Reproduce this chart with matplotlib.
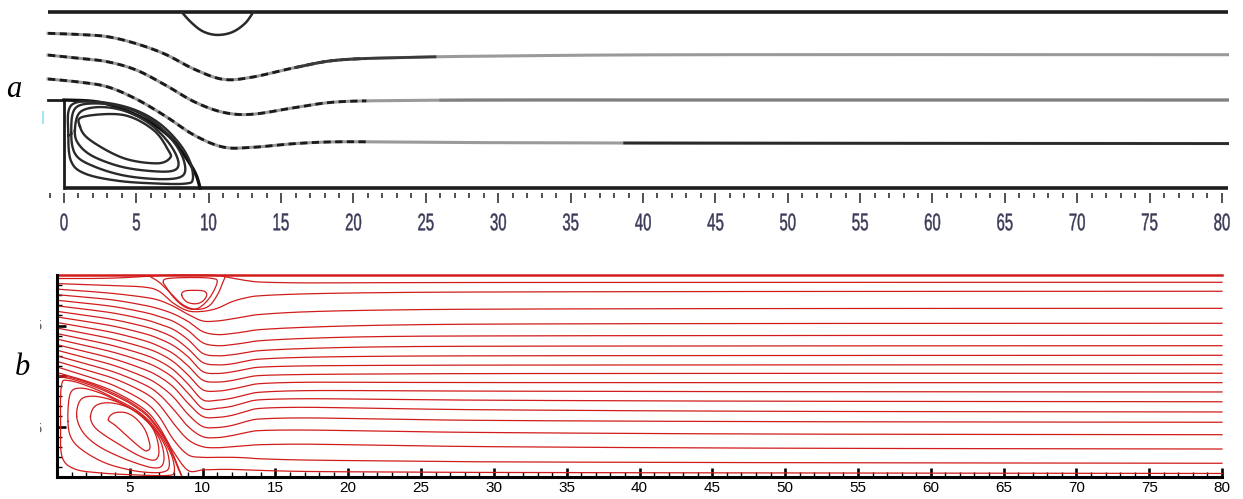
import numpy as np
import matplotlib.pyplot as plt
from matplotlib.lines import Line2D
from matplotlib.patches import Rectangle, PathPatch
from matplotlib.textpath import TextPath
from matplotlib.font_manager import FontProperties
from matplotlib.transforms import IdentityTransform, Affine2D

# ---------------- (a) coarse solution, black/grey streamlines ----------------
a_wall_x = [-1.1, 80.4]
a_step_x = [-1.1, 0.0, 0.0]
a_step_y = [1.0, 1.0, 0.0]
a_tick_labels = [str(v) for v in range(0, 81, 5)]

a_x = [-1.1, 1, 3, 5, 7, 9, 11, 13, 16, 19, 24, 30, 44, 80.4]
a_line1 = [1.758, 1.745, 1.72, 1.64, 1.52, 1.35, 1.235, 1.26, 1.37, 1.455, 1.485, 1.50, 1.515, 1.515]
a_line2 = [1.511, 1.475, 1.435, 1.34, 1.17, 0.98, 0.86, 0.838, 0.915, 0.98, 0.995, 1.0, 1.0, 1.0]
a_line3 = [1.239, 1.205, 1.15, 1.01, 0.817, 0.60, 0.465, 0.462, 0.505, 0.525, 0.52, 0.515, 0.51, 0.505]

# small separation bubble on the upper wall
a_top_x = [8.13, 8.8, 9.6, 10.55, 11.6, 12.5, 13.08]
a_top_y = [2.0, 1.88, 1.78, 1.74, 1.77, 1.87, 2.0]

# dividing streamline behind the step
a_sep_x = [0.0, 2.0, 3.5, 5.25, 6.5, 7.5, 8.24, 8.8, 9.17, 9.4]
a_sep_y = [1.0, 0.985, 0.93, 0.81, 0.69, 0.55, 0.39, 0.25, 0.13, 0.0]

# closed loops of the corner vortex
a_loops = [
    [(1.1, 0.70), (1.33, 0.81), (4.1, 0.83), (6.17, 0.66), (7.2, 0.43), (7.32, 0.34),
     (6.4, 0.28), (4.1, 0.34), (1.8, 0.545)],
    [(0.75, 0.65), (1.1, 0.86), (2.5, 0.92), (4.3, 0.87), (6.0, 0.72), (7.3, 0.50),
     (7.9, 0.30), (7.6, 0.2), (6.2, 0.19), (4.0, 0.24), (2.0, 0.36), (1.0, 0.5)],
    [(0.5, 0.62), (0.8, 0.91), (2.5, 0.96), (4.5, 0.90), (6.3, 0.74), (7.6, 0.52),
     (8.3, 0.30), (8.2, 0.14), (6.8, 0.10), (4.2, 0.14), (2.0, 0.25), (0.8, 0.38)],
    [(0.3, 0.6), (0.5, 0.94), (2.5, 0.975), (4.7, 0.90), (6.5, 0.745), (7.9, 0.52),
     (8.7, 0.30), (8.9, 0.1), (8.4, 0.05), (6.5, 0.05), (3.8, 0.08), (1.5, 0.16), (0.5, 0.3)],
]

# ---------------- (b) fine solution, red streamlines ----------------
b_x = [0, 2, 4, 6, 7, 8, 9, 10, 11, 12, 13, 14, 17, 22, 30, 50, 80]
b_lines = [
    [1.965, 1.965, 1.97, 1.985, 1.995, 2.0, 2.0, 2.0, 1.995, 1.97, 1.945, 1.93, 1.922, 1.924, 1.926, 1.927, 1.928],
    [1.915, 1.905, 1.895, 1.88, 1.84, 1.72, 1.645, 1.64, 1.67, 1.735, 1.775, 1.795, 1.813, 1.825, 1.832, 1.837, 1.839],
    [1.86, 1.84, 1.815, 1.78, 1.75, 1.69, 1.61, 1.545, 1.545, 1.565, 1.59, 1.61, 1.635, 1.652, 1.662, 1.668, 1.670],
    [1.805, 1.78, 1.75, 1.70, 1.665, 1.615, 1.54, 1.44, 1.41, 1.42, 1.44, 1.46, 1.482, 1.502, 1.514, 1.52, 1.522],
    [1.75, 1.72, 1.685, 1.63, 1.59, 1.54, 1.45, 1.33, 1.30, 1.31, 1.33, 1.35, 1.372, 1.39, 1.397, 1.401, 1.403],
    [1.695, 1.66, 1.62, 1.56, 1.515, 1.46, 1.36, 1.225, 1.20, 1.21, 1.232, 1.252, 1.272, 1.288, 1.295, 1.298, 1.30],
    [1.64, 1.60, 1.555, 1.49, 1.445, 1.38, 1.27, 1.135, 1.11, 1.12, 1.148, 1.168, 1.185, 1.195, 1.20, 1.203, 1.205],
    [1.585, 1.54, 1.49, 1.42, 1.37, 1.30, 1.19, 1.045, 1.025, 1.04, 1.068, 1.088, 1.10, 1.105, 1.108, 1.11, 1.112],
    [1.53, 1.48, 1.425, 1.35, 1.295, 1.22, 1.10, 0.96, 0.94, 0.955, 0.985, 1.005, 1.015, 1.02, 1.024, 1.026, 1.027],
    [1.475, 1.42, 1.36, 1.28, 1.225, 1.14, 1.01, 0.865, 0.85, 0.87, 0.90, 0.925, 0.938, 0.937, 0.935, 0.934, 0.934],
    [1.42, 1.36, 1.295, 1.21, 1.15, 1.06, 0.92, 0.765, 0.76, 0.78, 0.815, 0.84, 0.855, 0.855, 0.85, 0.845, 0.842],
    [1.365, 1.30, 1.23, 1.14, 1.075, 0.98, 0.83, 0.68, 0.68, 0.70, 0.74, 0.765, 0.775, 0.77, 0.76, 0.75, 0.745],
    [1.31, 1.24, 1.165, 1.065, 0.995, 0.89, 0.73, 0.60, 0.59, 0.61, 0.65, 0.68, 0.69, 0.68, 0.665, 0.65, 0.644],
    [1.255, 1.18, 1.10, 0.99, 0.91, 0.79, 0.62, 0.50, 0.49, 0.51, 0.55, 0.575, 0.585, 0.575, 0.56, 0.548, 0.542],
    [1.20, 1.12, 1.035, 0.915, 0.82, 0.67, 0.50, 0.40, 0.39, 0.41, 0.44, 0.46, 0.465, 0.455, 0.44, 0.425, 0.419],
    [1.145, 1.06, 0.97, 0.835, 0.72, 0.53, 0.37, 0.30, 0.29, 0.30, 0.31, 0.32, 0.325, 0.315, 0.30, 0.285, 0.277],
    [1.09, 1.00, 0.90, 0.745, 0.60, 0.37, 0.22, 0.195, 0.195, 0.195, 0.19, 0.18, 0.168, 0.16, 0.15, 0.142, 0.136],
    [1.035, 0.95, 0.84, 0.67, 0.50, 0.25, 0.065, 0.07, 0.075, 0.075, 0.07, 0.065, 0.055, 0.05, 0.045, 0.04, 0.035],
]

# dividing streamlines leaving the step corner
b_sep_x = [0, 1, 2, 3, 4, 5, 6, 6.5, 7, 7.5, 8, 8.3, 8.6]
b_sep_y = [1.0, 0.97, 0.925, 0.87, 0.805, 0.73, 0.63, 0.555, 0.46, 0.35, 0.2, 0.09, 0.0]
b_sep2_y = [1.01, 0.985, 0.94, 0.885, 0.82, 0.745, 0.645, 0.57, 0.475, 0.365, 0.215, 0.105, 0.0]

# corner vortex loops (inner to outer)
b_low_loops = [
    [(3.53, 0.565), (3.87, 0.63), (4.6, 0.64), (5.24, 0.60), (5.8, 0.52), (6.16, 0.43),
     (6.39, 0.30), (6.2, 0.26), (5.93, 0.27), (5.24, 0.35), (4.1, 0.50)],
    [(2.3, 0.60), (2.6, 0.70), (3.4, 0.735), (4.5, 0.71), (5.5, 0.64), (6.3, 0.54), (6.8, 0.41),
     (7.0, 0.26), (6.85, 0.18), (6.4, 0.17), (5.5, 0.22), (4.3, 0.32), (3.1, 0.43), (2.5, 0.51)],
    [(1.35, 0.60), (1.6, 0.76), (2.4, 0.80), (3.6, 0.77), (4.8, 0.70), (5.8, 0.60), (6.6, 0.48),
     (7.15, 0.34), (7.35, 0.20), (7.2, 0.11), (6.7, 0.09), (5.8, 0.12), (4.3, 0.20), (2.8, 0.31), (1.8, 0.44)],
    [(0.75, 0.55), (0.9, 0.82), (1.6, 0.88), (3.0, 0.83), (4.4, 0.73), (5.6, 0.63), (6.5, 0.51),
     (7.2, 0.37), (7.6, 0.24), (7.7, 0.10), (7.3, 0.05), (6.3, 0.045), (5.0, 0.07), (3.3, 0.14),
     (1.8, 0.26), (1.0, 0.38)],
    [(0.25, 0.5), (0.3, 0.9), (0.8, 0.955), (2.4, 0.885), (4.0, 0.775), (5.3, 0.675), (6.3, 0.56),
     (7.1, 0.415), (7.6, 0.295), (7.95, 0.18), (8.05, 0.05), (7.6, 0.015), (5.5, 0.02), (3.0, 0.04),
     (1.2, 0.08), (0.35, 0.2)],
]

# upper-wall bubble: two closed loops and the open dividing line
b_top_loops = [
    [(8.56, 1.80), (8.75, 1.84), (9.4, 1.848), (10.1, 1.84), (10.28, 1.80), (10.0, 1.74),
     (9.5, 1.715), (8.9, 1.735)],
    [(7.3, 1.93), (7.6, 1.965), (9.4, 1.975), (10.7, 1.965), (11.0, 1.93), (10.6, 1.80),
     (10.0, 1.70), (9.4, 1.66), (8.7, 1.69), (8.0, 1.78), (7.5, 1.88)],
]
b_top_sep_x = [6.2, 7.0, 7.8, 8.6, 9.5, 10.4, 11.0, 11.4, 11.6]
b_top_sep_y = [2.0, 1.93, 1.82, 1.71, 1.66, 1.69, 1.80, 1.93, 2.0]


def smooth(pts, closed=False, n=12):
    # Catmull-Rom curve through the given points
    p = np.asarray(pts, dtype=float)
    if closed:
        p = np.vstack([p[-1], p, p[0], p[1]])
    else:
        p = np.vstack([p[0], p, p[-1]])
    t = np.linspace(0, 1, n, endpoint=False)[:, None]
    out = []
    for i in range(1, len(p) - 2):
        p0, p1, p2, p3 = p[i - 1], p[i], p[i + 1], p[i + 2]
        out.append(0.5 * (2 * p1 + (p2 - p0) * t + (2 * p0 - 5 * p1 + 4 * p2 - p3) * t ** 2
                          + (3 * p1 - p0 - 3 * p2 + p3) * t ** 3))
    out.append(p[-2][None])
    c = np.vstack(out)
    return c[:, 0], c[:, 1]


W, H = 1243, 499


def rect(l, t, r, b):
    return [l / W, 1 - b / H, (r - l) / W, (b - t) / H]


def narrow_text(fig, s, cx, cy, height, squeeze, color):
    # condensed label drawn as a glyph outline, centred on pixel (cx, cy)
    tp = TextPath((0, 0), s, size=100, prop=FontProperties(family='Liberation Sans'))
    ext = tp.get_extents()
    k = height / ext.height
    tr = (Affine2D().translate(-(ext.x0 + ext.x1) / 2, -(ext.y0 + ext.y1) / 2)
          .scale(k * squeeze, k).translate(cx, H - cy))
    fig.patches.append(PathPatch(tr.transform_path(tp), transform=IdentityTransform(),
                                 facecolor=color, edgecolor=color, lw=0.3, figure=fig))


fig = plt.figure(figsize=(W / 100, H / 100), dpi=100)

# ---- panel a ----
ax = fig.add_axes(rect(42.3, 5, 1229.2, 193))
ax.set_facecolor('none')
ax.set_xlim(-1.5, 80.5)
ax.set_ylim(-0.057, 2.08)
for s in ax.spines.values():
    s.set_visible(False)
ax.set_yticks([])
ax.set_xticks(range(0, 81, 5))
ax.set_xticks(range(-1, 81), minor=True)
ax.set_xticklabels([])
ax.tick_params(axis='x', which='major', direction='out', length=7, width=1.1, color='#222222')
ax.tick_params(axis='x', which='minor', direction='out', length=3.8, width=1.1, color='#222222')
for lab in a_tick_labels:
    px = 64 + 14.475 * float(lab)
    narrow_text(fig, lab, px, 222, 17, 0.62, '#3b3b58')

wall = dict(color='#1c1c1c', lw=2.6, solid_capstyle='butt')
ax.plot(a_wall_x, [2, 2], **wall)
ax.plot([0, a_wall_x[1]], [0, 0], **wall)
ax.plot(a_step_x, a_step_y, color='#1c1c1c', lw=2.0)

for ys in (a_line1, a_line2, a_line3):
    x, y = smooth(list(zip(a_x, ys)))
    ax.plot(x, y, color='#9a9a9a', lw=2.2)
    near = x < 21
    ax.plot(x[near], y[near], color='#1a1a1a', lw=2.0, dashes=(2.6, 1.6))
# darker runs further downstream
for ys, x0, x1, c in ((a_line1, 16, 26, '#3a3a3a'), (a_line3, 38.4, 80.4, '#2a2a2a'),
                      (a_line2, 26, 80.4, '#808080')):
    x, y = smooth(list(zip(a_x, ys)))
    m = (x >= x0) & (x <= x1)
    ax.plot(x[m], y[m], color=c, lw=2.0)

x, y = smooth(list(zip(a_top_x, a_top_y)))
ax.plot(x, y, color='#2a2a2a', lw=1.8)
x, y = smooth(list(zip(a_sep_x, a_sep_y)))
ax.plot(x, y, color='#111111', lw=2.4)
for loop in a_loops:
    x, y = smooth(loop, closed=True)
    ax.plot(x, y, color='#2a2a2a', lw=1.7)

# ---- panel b ----
red = '#d21c1c'
bx = fig.add_axes(rect(57, 275, 1222, 477))
bx.set_facecolor('none')
bx.set_xlim(0, 80)
bx.set_ylim(0, 2)
bx.spines['top'].set_visible(False)
bx.spines['right'].set_visible(False)
for s in ('left', 'bottom'):
    bx.spines[s].set_linewidth(2.2)
    bx.spines[s].set_zorder(5)
bx.set_xticks(range(5, 81, 5))
bx.set_xticks(range(0, 81), minor=True)
bx.set_yticks([0.5, 1.0, 1.5])
bx.set_yticks([i / 10 for i in range(1, 20)], minor=True)
bx.set_yticklabels([])
bx.tick_params(which='major', direction='in', length=6.5, width=1.9, color='black')
bx.tick_params(which='minor', direction='in', length=3.6, width=1.0, color='black')
bx.tick_params(axis='x', which='major', pad=3, labelsize=11)
for t in bx.get_xticklabels():
    t.set_fontfamily(['Liberation Sans', 'DejaVu Sans'])
bx.get_xticklabels()[-1].set_clip_path(Rectangle((0, 0), 1233, H, transform=IdentityTransform()))

bx.plot([0, 80], [2, 2], color=red, lw=1.8, clip_on=False)
for ys in b_lines:
    x, y = smooth(list(zip(b_x, ys)))
    bx.plot(x, y, color=red, lw=0.9, clip_on=False)
for ys in (b_sep_y, b_sep2_y):
    x, y = smooth(list(zip(b_sep_x, ys)))
    bx.plot(x, y, color=red, lw=0.9)
for loop in b_low_loops + b_top_loops:
    x, y = smooth(loop, closed=True)
    bx.plot(x, y, color=red, lw=0.9)
x, y = smooth(list(zip(b_top_sep_x, b_top_sep_y)))
bx.plot(x, y, color=red, lw=0.9)

# cropped tick labels on the left edge of (b)
clip = Rectangle((39.5, 0), 3.5, H, transform=IdentityTransform())
for py in (326, 429):
    t = fig.text(43 / W, 1 - py / H, '5', ha='right', va='center', fontsize=10, color='#555555')
    t.set_clip_path(clip)

fig.add_artist(Line2D([43 / W, 43 / W], [1 - 112 / H, 1 - 123 / H], color='#a8e4f4', lw=1.5))

serif = ['Liberation Serif', 'DejaVu Serif']
fig.text(14 / W, 1 - 97 / H, 'a', family=serif, style='italic', fontsize=22, ha='center', va='baseline')
fig.text(22 / W, 1 - 375 / H, 'b', family=serif, style='italic', fontsize=22, ha='center', va='baseline')

fig.savefig('out.png', dpi=100)
